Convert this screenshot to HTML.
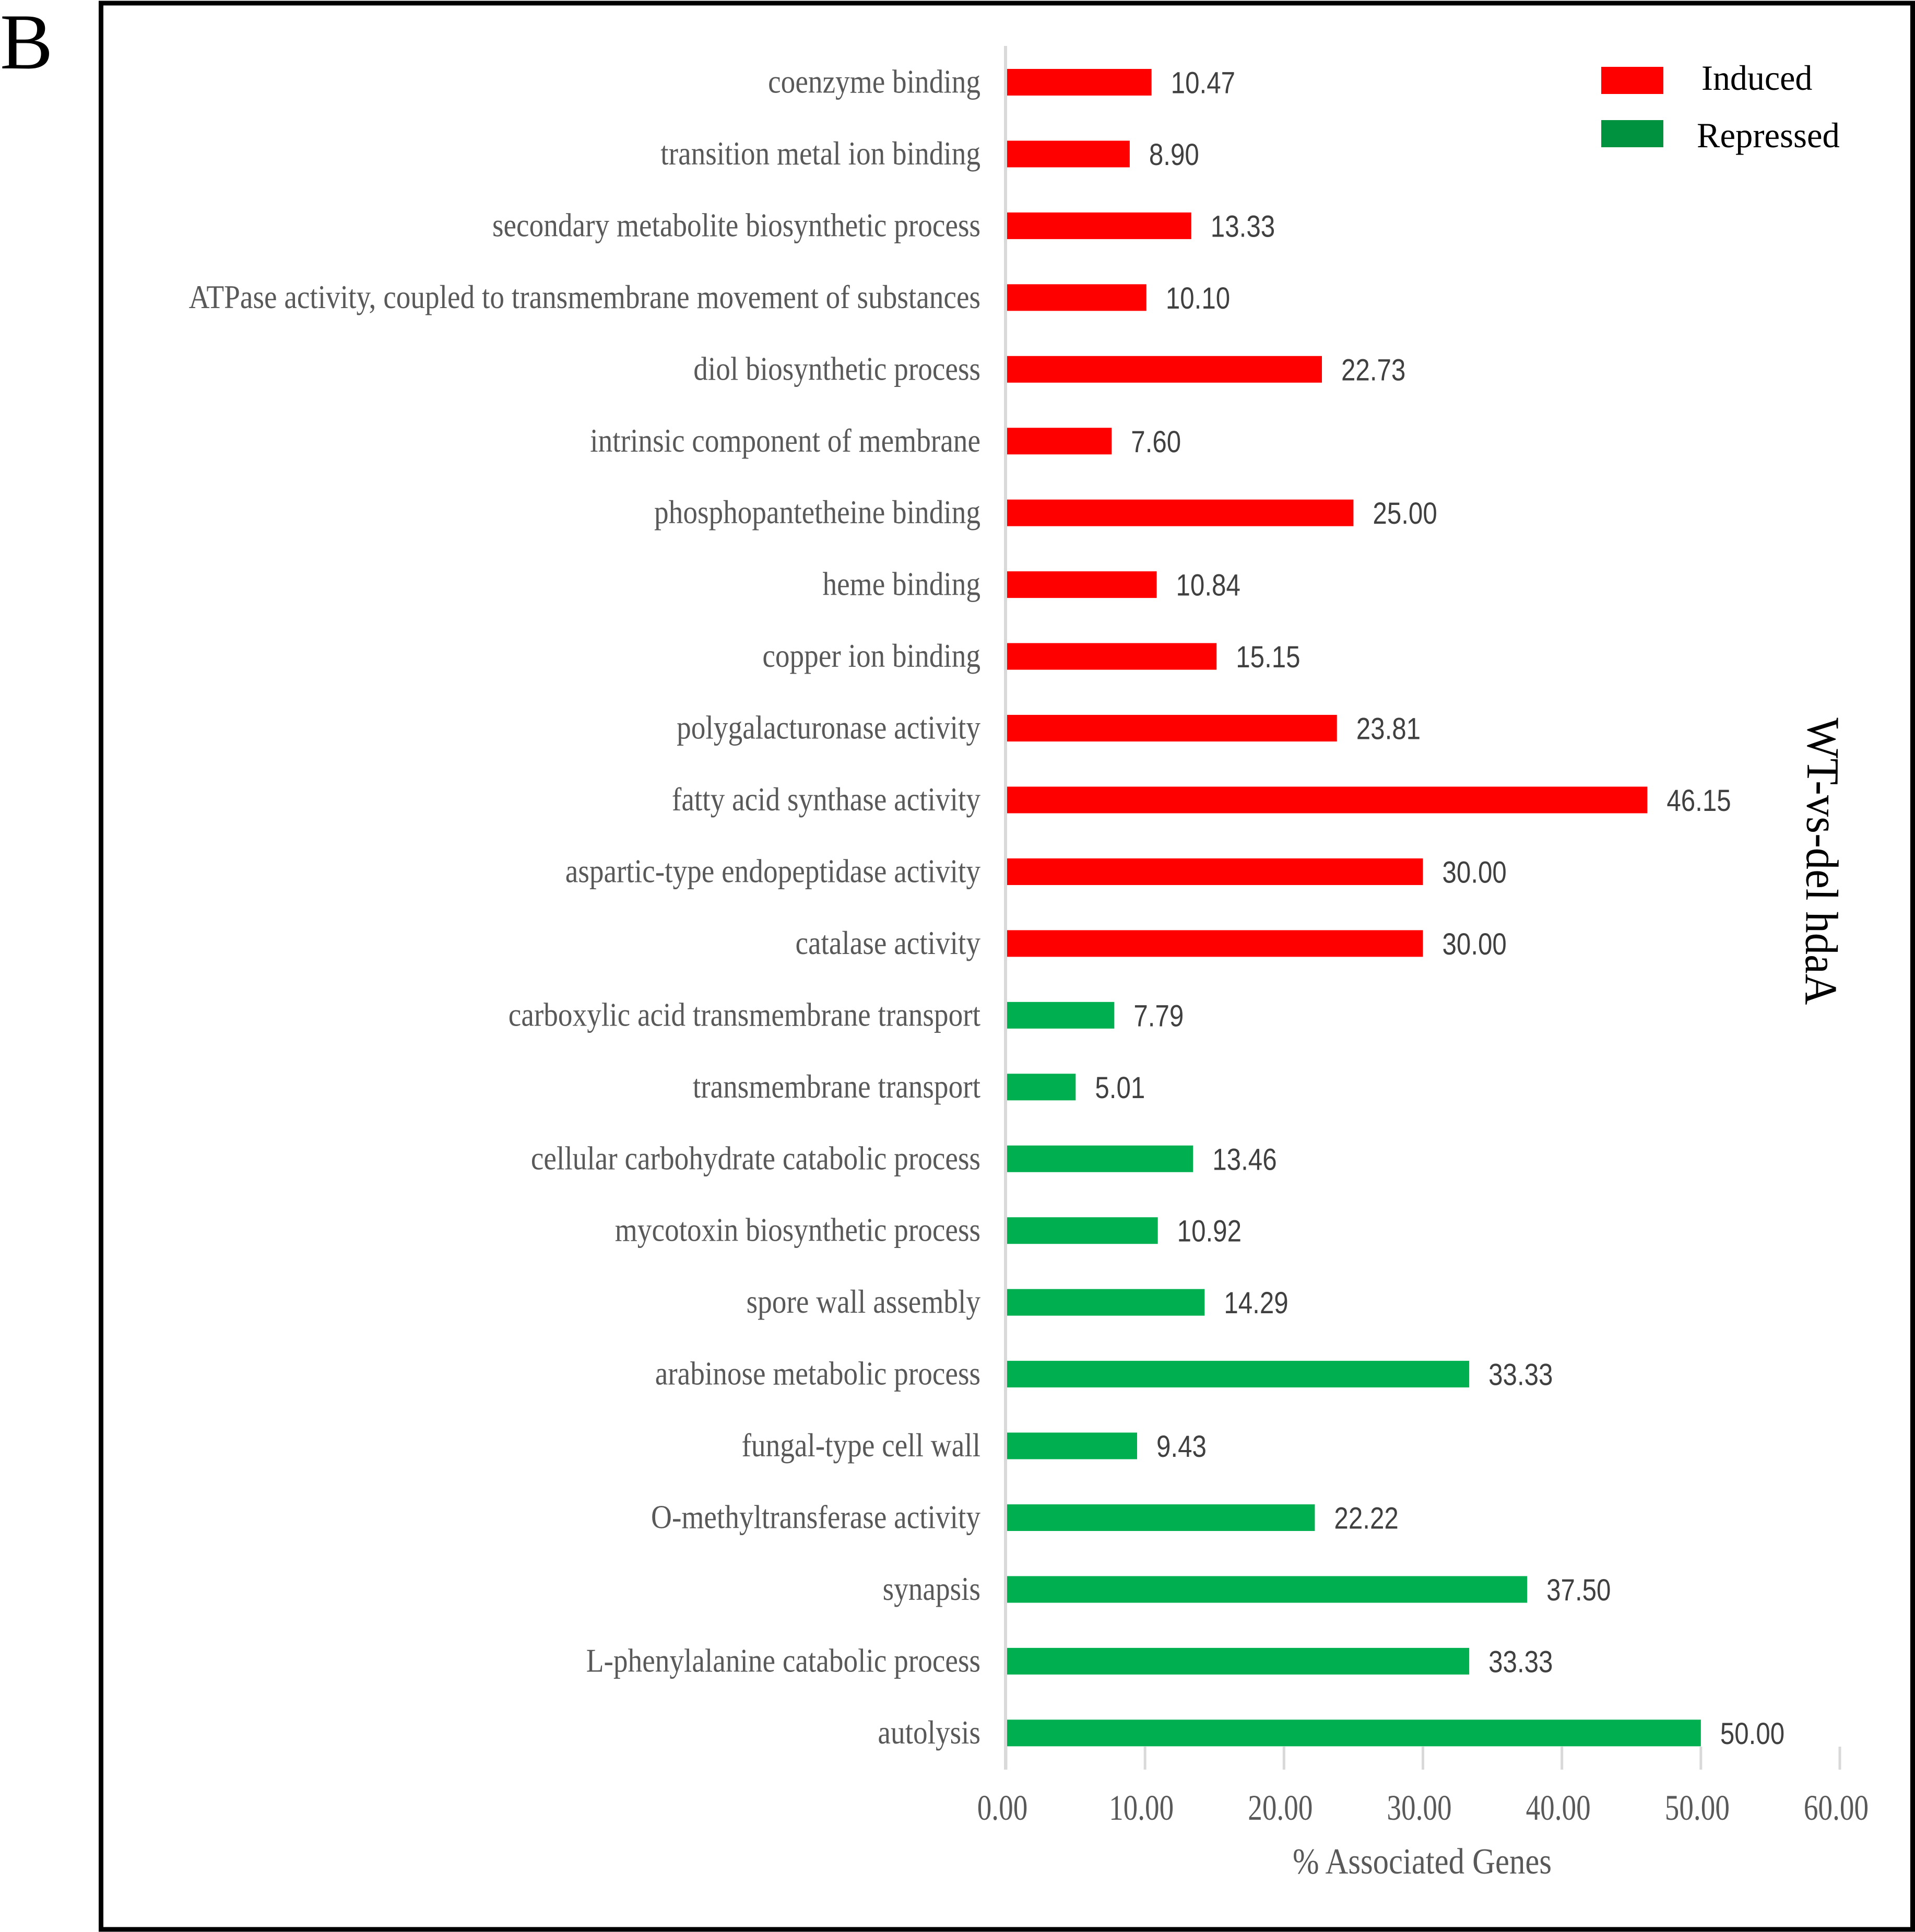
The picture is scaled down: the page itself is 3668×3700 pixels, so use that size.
<!DOCTYPE html>
<html>
<head>
<meta charset="utf-8">
<title>WT-vs-del hdaA GO enrichment</title>
<style>
html,body{margin:0;padding:0;background:#fff;width:3668px;height:3700px;overflow:hidden}
svg{display:block}
.serif{font-family:"Liberation Serif","Times New Roman",serif}
.sans{font-family:"Liberation Sans",Arial,sans-serif}
</style>
</head>
<body>
<svg id="chart" xmlns="http://www.w3.org/2000/svg" width="3668" height="3700" viewBox="0 0 3668 3700">
  <rect x="0" y="0" width="3668" height="3700" fill="#ffffff"/>
  <rect x="193.5" y="6" width="3470" height="3689" fill="none" stroke="#000000" stroke-width="9"/>
  <text class="serif" x="0" y="131" font-size="152" fill="#000000">B</text>
  <g id="plot"></g>
  <rect x="3067" y="128" width="119" height="52" fill="#ff0000"/>
  <text class="serif" transform="translate(3259,172) scale(0.97,1)" font-size="68" fill="#000000">Induced</text>
  <rect x="3067" y="230" width="119" height="52" fill="#00923f"/>
  <text class="serif" transform="translate(3250,282) scale(0.98,1)" font-size="68" fill="#000000">Repressed</text>
  <text class="serif" transform="translate(2724,3588) scale(0.868,1)" text-anchor="middle" font-size="70" fill="#595959">% Associated Genes</text>
  <text class="serif" transform="translate(3463,1374) rotate(90.5) scale(0.94,1)" font-size="88" fill="#000000">WT-vs-del hdaA</text>
</svg>
<script>
const categories = [
  "coenzyme binding",
  "transition metal ion binding",
  "secondary metabolite biosynthetic process",
  "ATPase activity, coupled to transmembrane movement of substances",
  "diol biosynthetic process",
  "intrinsic component of membrane",
  "phosphopantetheine binding",
  "heme binding",
  "copper ion binding",
  "polygalacturonase activity",
  "fatty acid synthase activity",
  "aspartic-type endopeptidase activity",
  "catalase activity",
  "carboxylic acid transmembrane transport",
  "transmembrane transport",
  "cellular carbohydrate catabolic process",
  "mycotoxin biosynthetic process",
  "spore wall assembly",
  "arabinose metabolic process",
  "fungal-type cell wall",
  "O-methyltransferase activity",
  "synapsis",
  "L-phenylalanine catabolic process",
  "autolysis"
];
const values = [10.47, 8.90, 13.33, 10.10, 22.73, 7.60, 25.00, 10.84, 15.15, 23.81, 46.15, 30.00, 30.00, 7.79, 5.01, 13.46, 10.92, 14.29, 33.33, 9.43, 22.22, 37.50, 33.33, 50.00];
const groups = ["Induced","Induced","Induced","Induced","Induced","Induced","Induced","Induced","Induced","Induced","Induced","Induced","Induced","Repressed","Repressed","Repressed","Repressed","Repressed","Repressed","Repressed","Repressed","Repressed","Repressed","Repressed"];
const tickValues = [0, 10, 20, 30, 40, 50, 60];
const tickLabels = ["0.00", "10.00", "20.00", "30.00", "40.00", "50.00", "60.00"];

const SVG_NS = "http://www.w3.org/2000/svg";
const plot = document.getElementById("plot");
const groupColor = { Induced: "#ff0000", Repressed: "#00b050" };

function xScale(v) { return 1927 + (3524 - 1927) * (v / 60); }
function yScale(i) { return 157.5 + 137.45 * i; }
function slug(s) { return s.toLowerCase().replace(/[^a-z0-9]+/g, "-").replace(/^-|-$/g, ""); }
function make(tag, attrs) {
  const el = document.createElementNS(SVG_NS, tag);
  for (const k in attrs) el.setAttribute(k, attrs[k]);
  plot.appendChild(el);
  return el;
}

const BAR_H = 51;

values.forEach(function (v, i) {
  const cy = yScale(i);
  const bar = make("rect", { x: xScale(0), y: cy - BAR_H / 2, width: xScale(v) - xScale(0), height: BAR_H, fill: groupColor[groups[i]] });
  
  

  const label = make("text", { transform: "translate(1878," + (cy + 20) + ") scale(0.864,1)", "text-anchor": "end", "font-size": 64, fill: "#595959", "class": "serif" });
  label.textContent = categories[i];
  
  

  const val = make("text", { transform: "translate(" + (xScale(v) + 37) + "," + (cy + 21) + ") scale(0.85,1)", "font-size": 58, fill: "#404040", "class": "sans" });
  val.textContent = v.toFixed(2);
  
  
});

const axisLine = make("rect", { x: 1923, y: 88, width: 6, height: 3301, fill: "#d9d9d9" });



tickValues.forEach(function (t, i) {
  const tx = xScale(t);
  const tick = make("rect", { x: tx - 2.5, y: 3345, width: 5, height: 44, fill: "#d9d9d9" });
  
  

  const tl = make("text", { transform: "translate(" + (tx - 7) + ",3485) scale(0.8,1)", "text-anchor": "middle", "font-size": 69, fill: "#595959", "class": "serif" });
  tl.textContent = tickLabels[i];
  
  
});
</script>
</body>
</html>
